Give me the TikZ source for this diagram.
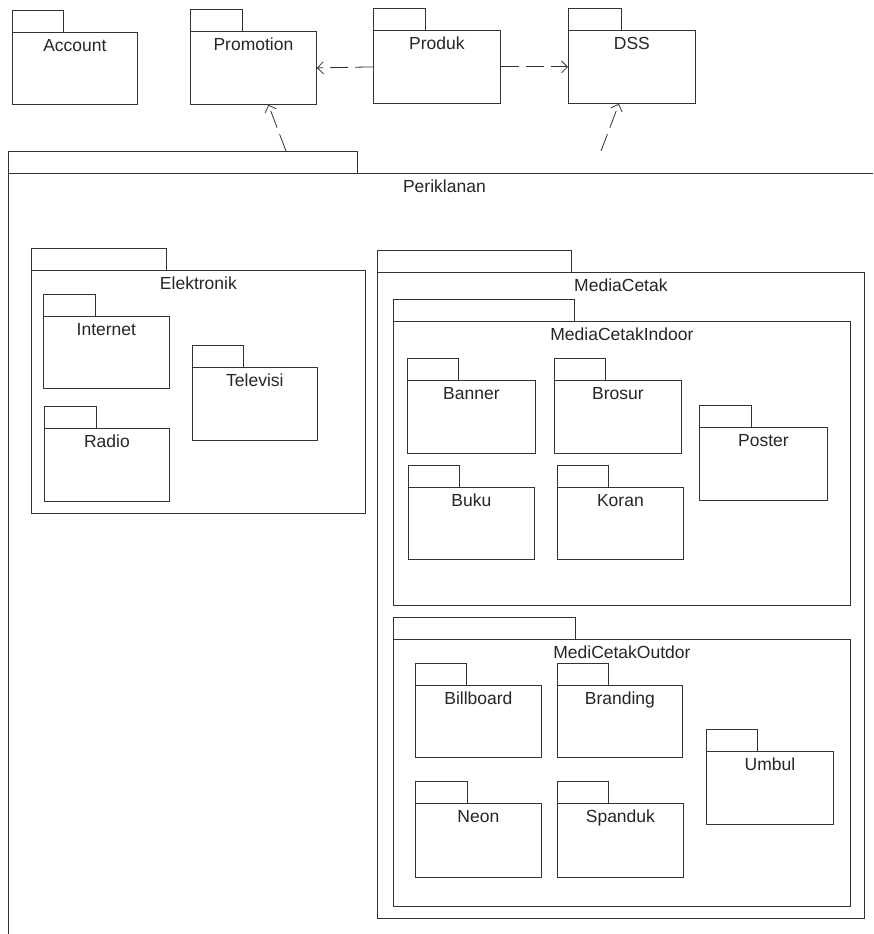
\documentclass[tikz,border=0pt]{standalone}
\usepackage{fontspec}
\setmainfont{Liberation Sans}
\usetikzlibrary{arrows.meta,positioning,calc}
\definecolor{ink}{gray}{0.2}
\tikzset{pkg/.style={draw=ink,line width=0.8pt,inner sep=0pt,anchor=north west},
  pkgtext/.style={anchor=north,inner sep=0pt,yshift=-7pt,text=black!85,font=\fontsize{17.5}{20}\selectfont},
  pkgtab/.style={draw=ink,line width=0.8pt},
  dep/.style={draw=ink,line width=0.8pt,dash pattern=on 18pt off 7pt,-{Straight Barb[length=6pt,width=12pt]}}}
% package: name, x, y (top left of body), width, height, tab width, text
\newcommand{\pkg}[7]{%
  \node[pkg,minimum width=#4pt,minimum height=#5pt,label={[pkgtext]north:#7}] (#1) at (#2,#3) {};
  \draw[pkgtab] (#1.north west) rectangle ++(#6,-22);}

\begin{document}
\begin{tikzpicture}[x=1pt,y=-1pt]
\clip (0,0) rectangle (873,934);
\fill[white] (0,0) rectangle (873,934);
% top row
\pkg{account}{12}{32}{125}{72}{51}{Account}
\pkg{promotion}{190}{31}{126}{73}{52}{Promotion}
\pkg{produk}{373}{30}{127}{73}{52}{Produk}
\pkg{dss}{568}{30}{127}{73}{53}{DSS}
% Periklanan (runs past the page)
\pkg{periklanan}{8}{173}{872}{800}{349}{Periklanan}
% Elektronik
\pkg{elektronik}{31}{270}{334}{243}{135}{Elektronik}
\pkg{internet}{43}{316}{126}{72}{52}{Internet}
\pkg{televisi}{192}{367}{125}{73}{51}{Televisi}
\pkg{radio}{44}{428}{125}{73}{52}{Radio}
% MediaCetak
\pkg{mediacetak}{377}{272}{487}{646}{194}{MediaCetak}
\pkg{indoor}{393}{321}{457}{284}{181}{MediaCetakIndoor}
\pkg{banner}{407}{380}{128}{73}{51}{Banner}
\pkg{brosur}{554}{380}{127}{73}{51}{Brosur}
\pkg{poster}{699}{427}{128}{73}{52}{Poster}
\pkg{buku}{408}{487}{126}{72}{51}{Buku}
\pkg{koran}{557}{487}{126}{72}{51}{Koran}
\pkg{outdor}{393}{639}{457}{267}{182}{MediCetakOutdor}
\pkg{billboard}{415}{685}{126}{72}{51}{Billboard}
\pkg{branding}{557}{685}{125}{72}{51}{Branding}
\pkg{umbul}{706}{751}{127}{73}{51}{Umbul}
\pkg{neon}{415}{803}{126}{74}{52}{Neon}
\pkg{spanduk}{557}{803}{126}{74}{51}{Spanduk}
% dependencies
\coordinate (per1) at (286,151);
\coordinate (per2) at (601,151);
\draw[dep] (produk.west) -- (promotion.east);
\draw[dep] (produk.east) -- (dss.west);
\draw[dep] (per1) -- ([xshift=15pt]promotion.south);
\draw[dep] (per2) -- ([xshift=-13pt]dss.south);
\end{tikzpicture}
\end{document}
